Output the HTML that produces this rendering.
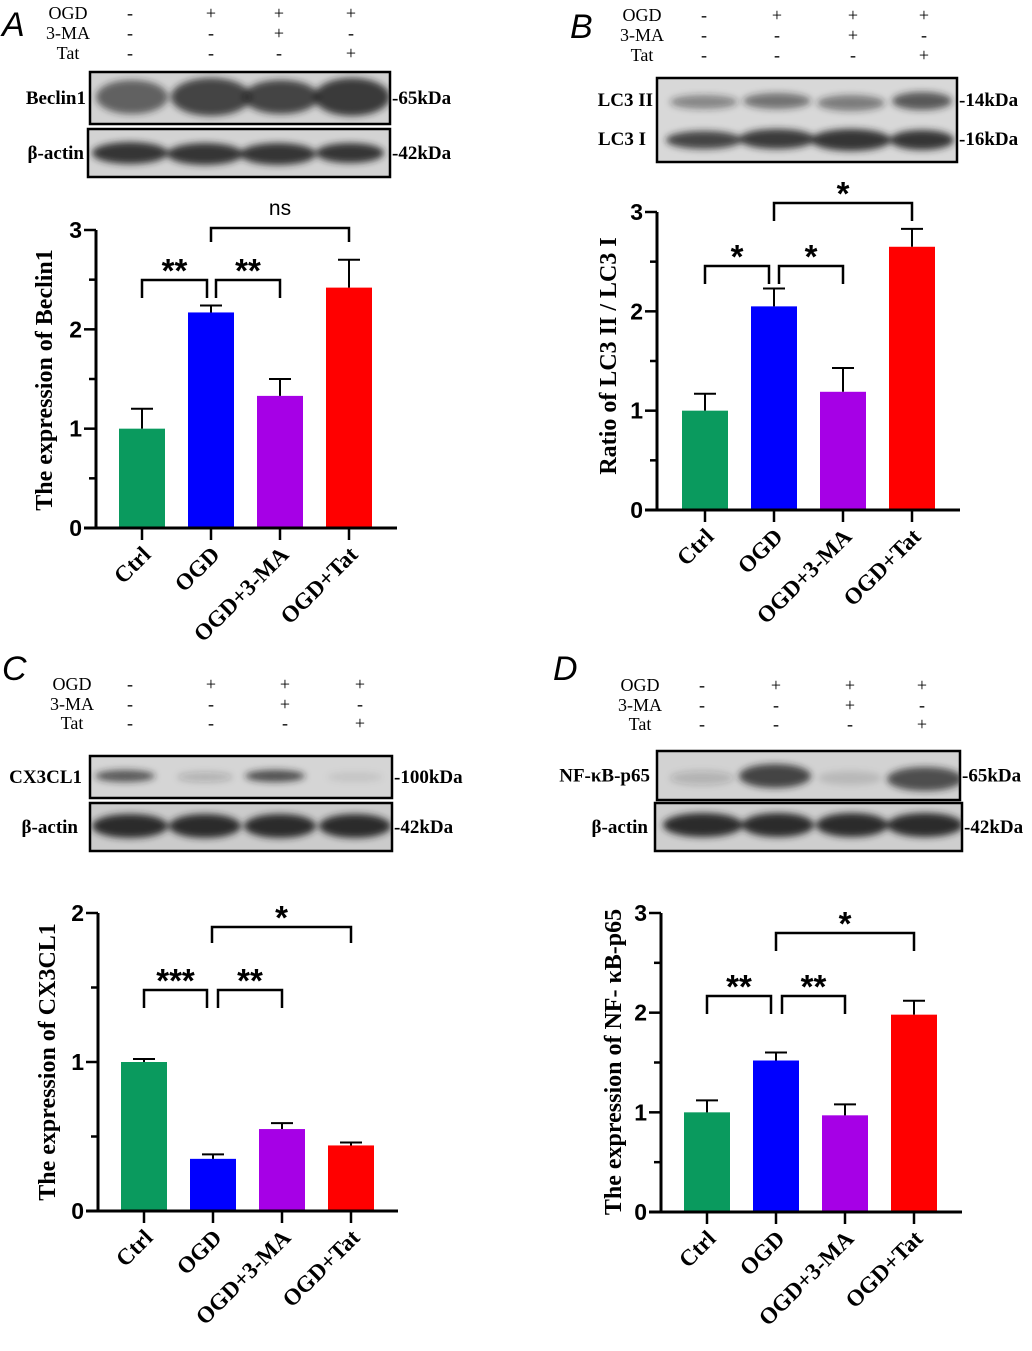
<!DOCTYPE html>
<html><head><meta charset="utf-8"><style>
body{margin:0;background:#fff}
svg text{font-family:"Liberation Serif",serif}
.sans{font-family:"Liberation Sans",sans-serif !important}
</style></head><body>
<svg id="fig" width="1032" height="1346" viewBox="0 0 1032 1346" xmlns="http://www.w3.org/2000/svg">
<defs>
<filter id="blur" x="-30%" y="-60%" width="160%" height="220%"><feGaussianBlur stdDeviation="3.5"/></filter>
</defs>
<g id="root"></g>
</svg>
<script>
const categories = ["Ctrl","OGD","OGD+3-MA","OGD+Tat"];
const colors = ["#0a9a5e","#0000ff","#a600e6","#ff0000"];
const valuesA = [1.0,2.17,1.33,2.42];
const errA = [0.2,0.07,0.17,0.28];
const valuesB = [1.0,2.05,1.19,2.65];
const errB = [0.17,0.18,0.24,0.18];
const valuesC = [1.0,0.35,0.55,0.44];
const errC = [0.02,0.03,0.04,0.02];
const valuesD = [1.0,1.52,0.97,1.98];
const errD = [0.12,0.08,0.11,0.14];
const ticksA = [0,1,2,3];
const ticksC = [0,1,2];

const NS="http://www.w3.org/2000/svg";
const root=document.getElementById('root');
function mk(tag,attrs,parent,text){const e=document.createElementNS(NS,tag);for(const k in attrs)e.setAttribute(k,attrs[k]);if(text!==undefined)e.textContent=text;(parent||root).appendChild(e);return e;}

function chart(cfg){
  const g=mk('g',{});
  
  
  const y=v=>cfg.y0-(v/cfg.ymax)*(cfg.y0-cfg.ytop);
  const x=i=>cfg.x0+cfg.x1off+i*cfg.step;
  cfg.vals.forEach((v,i)=>{
    const b=mk('rect',{x:x(i)-23,y:y(v),width:46,height:cfg.y0-y(v),fill:colors[i]},g);
    
    
    const t=y(v+cfg.err[i]);
    const eb=mk('path',{d:`M${x(i)} ${y(v)}V${t}M${x(i)-11} ${t}H${x(i)+11}`,stroke:'#000','stroke-width':2,fill:'none'},g);
    
    
  });
  const ax=mk('path',{d:`M${cfg.x0} ${cfg.ytop}V${cfg.y0}M${cfg.x0-12} ${cfg.y0}H${cfg.xend}`,stroke:'#000','stroke-width':3,fill:'none'},g);
  
  
  for(let v=0;v<=cfg.ymax+1e-9;v+=0.5){
    const major=Math.abs(v-Math.round(v))<1e-6;
    mk('line',{x1:cfg.x0-(major?12:7),x2:cfg.x0,y1:y(v),y2:y(v),stroke:'#000','stroke-width':2.5},g);
  }
  cfg.ticks.forEach(v=>{
    const t=mk('text',{x:cfg.x0-14,y:y(v)+8,'text-anchor':'end','font-size':23,'font-weight':'bold',class:'sans'},g,String(v));
    
    
  });
  categories.forEach((c,i)=>{
    mk('line',{x1:x(i),x2:x(i),y1:cfg.y0,y2:cfg.y0+12,stroke:'#000','stroke-width':2.5},g);
    const t=mk('text',{transform:`translate(${x(i)+10},${cfg.y0+28}) rotate(-45)`,'text-anchor':'end','font-size':23,'font-weight':'bold'},g,c);
    
    
  });
  const yt=mk('text',{transform:`translate(${cfg.tx},${cfg.ty}) rotate(-90)`,'text-anchor':'middle','font-size':24,'font-weight':'bold'},g,cfg.title);
  
  
  cfg.br.forEach(b=>{
    const [xa,xb,top,leg,label]=b;
    const p=mk('path',{d:`M${xa} ${top+leg}V${top}H${xb}V${top+leg}`,stroke:'#000','stroke-width':2.5,fill:'none'},g);
    
    
    const t=mk('text',{x:(xa+xb)/2,y:label==='ns'?top-13:top+2,'text-anchor':'middle','font-size':label==='ns'?21:33,'font-weight':label==='ns'?'normal':'bold',class:'sans'},g,label);
    
    
  });
}
chart({name:'chart-a-beclin1',vals:valuesA,err:errA,ticks:ticksA,ymax:3,x0:96,y0:528,ytop:230,xend:397,x1off:46,step:69,title:'The expression of Beclin1',tx:52,ty:380,
  br:[[142,207,280,18,'**'],[216,280,280,18,'**'],[211,349,228,14,'ns']]});
chart({name:'chart-b-lc3',vals:valuesB,err:errB,ticks:ticksA,ymax:3,x0:657,y0:510,ytop:212,xend:960,x1off:48,step:69,title:'Ratio of  LC3 II / LC3 I',tx:616,ty:356,
  br:[[705,769,266,18,'*'],[779,843,266,18,'*'],[774,912,203,18,'*']]});
chart({name:'chart-c-cx3cl1',vals:valuesC,err:errC,ticks:ticksC,ymax:2,x0:98,y0:1211,ytop:913,xend:398,x1off:46,step:69,title:'The expression of CX3CL1',tx:55,ty:1062,
  br:[[144,207,990,18,'***'],[218,282,990,18,'**'],[212,351,927,16,'*']]});
chart({name:'chart-d-nfkb',vals:valuesD,err:errD,ticks:ticksA,ymax:3,x0:661,y0:1212,ytop:913,xend:962,x1off:46,step:69,title:'The expression of NF- κB-p65',tx:621,ty:1062,
  br:[[707,771,996,18,'**'],[782,845,996,18,'**'],[776,914,933,18,'*']]});

function header(name,lx,rows,cols,signs){
  const g=mk('g',{});
  
  
  ['OGD','3-MA','Tat'].forEach((lab,r)=>{
    mk('text',{x:lx,y:rows[r]+6,'text-anchor':'middle','font-size':18},g,lab);
    cols.forEach((c,i)=>mk('text',{x:c,y:rows[r]+6,'text-anchor':'middle','font-size':18},g,signs[r][i]));
  });
}
const signs=[['-','+','+','+'],['-','-','+','-'],['-','-','-','+']];
header('header-a',68,[13,33,53],[130,211,279,351],signs);
header('header-b',642,[15,35,55],[704,777,853,924],signs);
header('header-c',72,[684,704,723],[130,211,285,360],signs);
header('header-d',640,[685,705,724],[702,776,850,922],signs);

[['A',2,36],['B',570,38],['C',2,680],['D',553,680]].forEach(([l,x,y])=>{
  const t=mk('text',{x,y,'font-size':34,'font-style':'italic',class:'sans'},root,l);
  
  
});

function blot(name,x,y,w,h,bg,bands,label,lx,kda,ky){
  const g=mk('g',{});
  
  
  mk('rect',{x,y,width:w,height:h,fill:bg,stroke:'#000','stroke-width':2.5},g);
  const clip='c'+name;
  const cp=mk('clipPath',{id:clip},g);mk('rect',{x,y,width:w,height:h},cp);
  const bg2=mk('g',{'clip-path':`url(#${clip})`},g);
  const bg3=mk('g',{filter:'url(#blur)'},bg2);
  bands.forEach(b=>mk('ellipse',{cx:b[0],cy:b[1],rx:b[2],ry:b[3],fill:'#222','fill-opacity':b[4]},bg3));
  mk('text',{x:lx,y:(ky||y+h/2)+6,'text-anchor':'end','font-size':19,'font-weight':'bold'},g,label);
  if(kda)mk('text',{x:x+w+2,y:(ky||y+h/2)+6,'font-size':19,'font-weight':'bold'},g,kda);
}
blot('blot-beclin1',90,72,300,52,'#d2d2d2',[[132,97,36,17,0.65],[211,97,40,19,0.8],[281,97,38,17,0.8],[352,97,38,19,0.85]],'Beclin1',86,'-65kDa');
blot('blot-actin-a',88,129,302,48,'#d3d3d3',[[130,153,38,11,0.9],[205,154,38,11,0.9],[278,154,38,11,0.9],[350,153,34,10,0.9]],'β-actin',84,'-42kDa');
blot('blot-lc3',657,78,300,84,'#d8d8d8',[[704,102,34,7,0.45],[777,101,34,8,0.55],[851,103,34,8,0.5],[922,101,30,9,0.7],[704,140,38,9,0.8],[777,139,38,10,0.85],[851,140,40,11,0.9],[922,140,32,10,0.9]],'LC3 II',653,'-14kDa',100);
mk('text',{x:646,y:145,'text-anchor':'end','font-size':19,'font-weight':'bold'},root,'LC3 I');
mk('text',{x:959,y:145,'font-size':19,'font-weight':'bold'},root,'-16kDa');
blot('blot-cx3cl1',90,756,302,42,'#d5d5d5',[[125,776,30,6,0.7],[205,777,28,5,0.2],[275,776,30,6,0.75],[355,777,28,5,0.08]],'CX3CL1',82,'-100kDa');
blot('blot-actin-c',90,803,302,48,'#cbcbcb',[[130,826,38,12,0.95],[205,826,36,12,0.95],[280,826,36,12,0.95],[355,826,36,12,0.95]],'β-actin',78,'-42kDa');
blot('blot-nfkb',657,751,303,49,'#d2d2d2',[[702,778,32,7,0.18],[775,776,36,12,0.8],[850,778,32,7,0.12],[925,779,38,12,0.75]],'NF-κB-p65',650,'-65kDa');
blot('blot-actin-d',655,803,307,48,'#cecece',[[703,825,40,12,0.95],[778,825,36,12,0.95],[852,825,36,12,0.95],[925,825,38,12,0.95]],'β-actin',648,'-42kDa');
</script>
</body></html>
